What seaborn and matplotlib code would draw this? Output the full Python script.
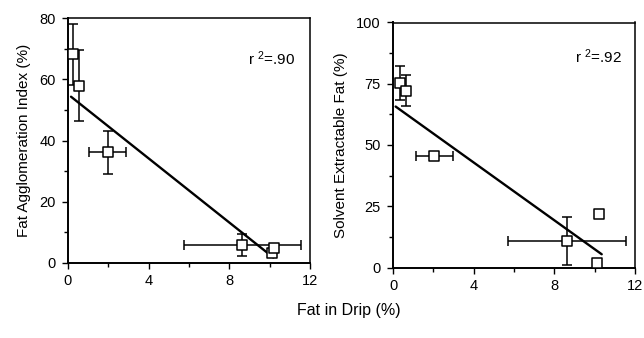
import matplotlib
matplotlib.use("Agg")
import matplotlib.pyplot as plt
from matplotlib.ticker import MultipleLocator
import seaborn as sns
import pandas as pd

sns.set_theme(style="ticks")
plt.rcParams['font.family'] = ['Liberation Sans', 'DejaVu Sans']
plt.rcParams['mathtext.fontset'] = 'custom'
plt.rcParams['mathtext.rm'] = 'Liberation Sans'

# Left panel: Fat Agglomeration Index
fai_x = [0.26, 0.56, 1.97, 8.64, 10.1, 10.2]
fai_y = [68.1, 57.9, 36.2, 6.0, 3.2, 4.8]
fai_xerr = [0, 0, 0.92, 2.9, 0, 0]
fai_yerr = [10.0, 11.5, 7.0, 3.6, 0, 0]
fai_fit_x = [0.15, 10.18]
fai_fit_y = [54.3, 1.8]

# Right panel: Solvent Extractable Fat
sef_x = [0.33, 0.63, 2.04, 8.64, 10.23, 10.13]
sef_y = [75.2, 72.2, 45.6, 11.0, 21.9, 1.8]
sef_xerr = [0, 0, 0.92, 2.92, 0, 0]
sef_yerr = [7.0, 6.4, 0, 9.8, 0, 0]
sef_fit_x = [0.13, 10.35]
sef_fit_y = [65.7, 5.4]

W, H = 644, 338
fig = plt.figure(figsize=(W / 100, H / 100), dpi=100)
ax1 = fig.add_axes([68 / W, 1 - 263 / H, 242 / W, 245 / H])
ax2 = fig.add_axes([393 / W, 1 - 267.5 / H, 242 / W, 245 / H])

def panel(ax, x, y, xerr, yerr, fx, fy, ymax, ymaj, ymin, ylabel, r2, r2x, r2y):
    df = pd.DataFrame({"x": x, "y": y})
    ax.errorbar(x, y, xerr=xerr, yerr=yerr, fmt='none', ecolor='black',
                elinewidth=1.1, capsize=3.5, capthick=1.1, zorder=2)
    sns.lineplot(x=fx, y=fy, ax=ax, color='black', linewidth=1.7, zorder=3)
    sns.scatterplot(data=df, x="x", y="y", ax=ax, marker='s', s=48,
                    facecolor='white', edgecolor='black', linewidth=1.1, zorder=4)
    ax.set_xlim(0, 12)
    ax.set_ylim(0, ymax)
    ax.xaxis.set_major_locator(MultipleLocator(4))
    ax.xaxis.set_minor_locator(MultipleLocator(2))
    ax.yaxis.set_major_locator(MultipleLocator(ymaj))
    ax.yaxis.set_minor_locator(MultipleLocator(ymin))
    ax.tick_params(which='both', direction='out', width=1, color='black',
                   labelsize=10.5, labelcolor='black')
    ax.tick_params(which='major', length=4)
    ax.tick_params(which='minor', length=3)
    ax.tick_params(axis='y', pad=5)
    ax.tick_params(axis='x', pad=4)
    for s in ax.spines.values():
        s.set_visible(True)
        s.set_linewidth(1.1)
        s.set_color('black')
    ax.spines['left'].set_linewidth(1.4)
    ax.spines['bottom'].set_linewidth(1.4)
    ax.set_xlabel('')
    ax.set_ylabel(ylabel, fontsize=11, color='black', labelpad=6)
    ax.text(r2x, r2y, r2, transform=ax.transAxes, ha='right', va='baseline',
            fontsize=11, color='black')
    ax.set_facecolor('white')

panel(ax1, fai_x, fai_y, fai_xerr, fai_yerr, fai_fit_x, fai_fit_y,
      80, 20, 10, 'Fat Agglomeration Index (%)', r'r $\mathregular{^{2}}$=.90', 0.938, 0.81)
panel(ax2, sef_x, sef_y, sef_xerr, sef_yerr, sef_fit_x, sef_fit_y,
      100, 25, 12.5, 'Solvent Extractable Fat (%)', r'r $\mathregular{^{2}}$=.92', 0.946, 0.835)

fig.text(349 / W, 1 - 311 / H, 'Fat in Drip (%)', ha='center', va='center',
         fontsize=11.5, color='black')

fig.savefig('out.png', dpi=100, facecolor='white')
